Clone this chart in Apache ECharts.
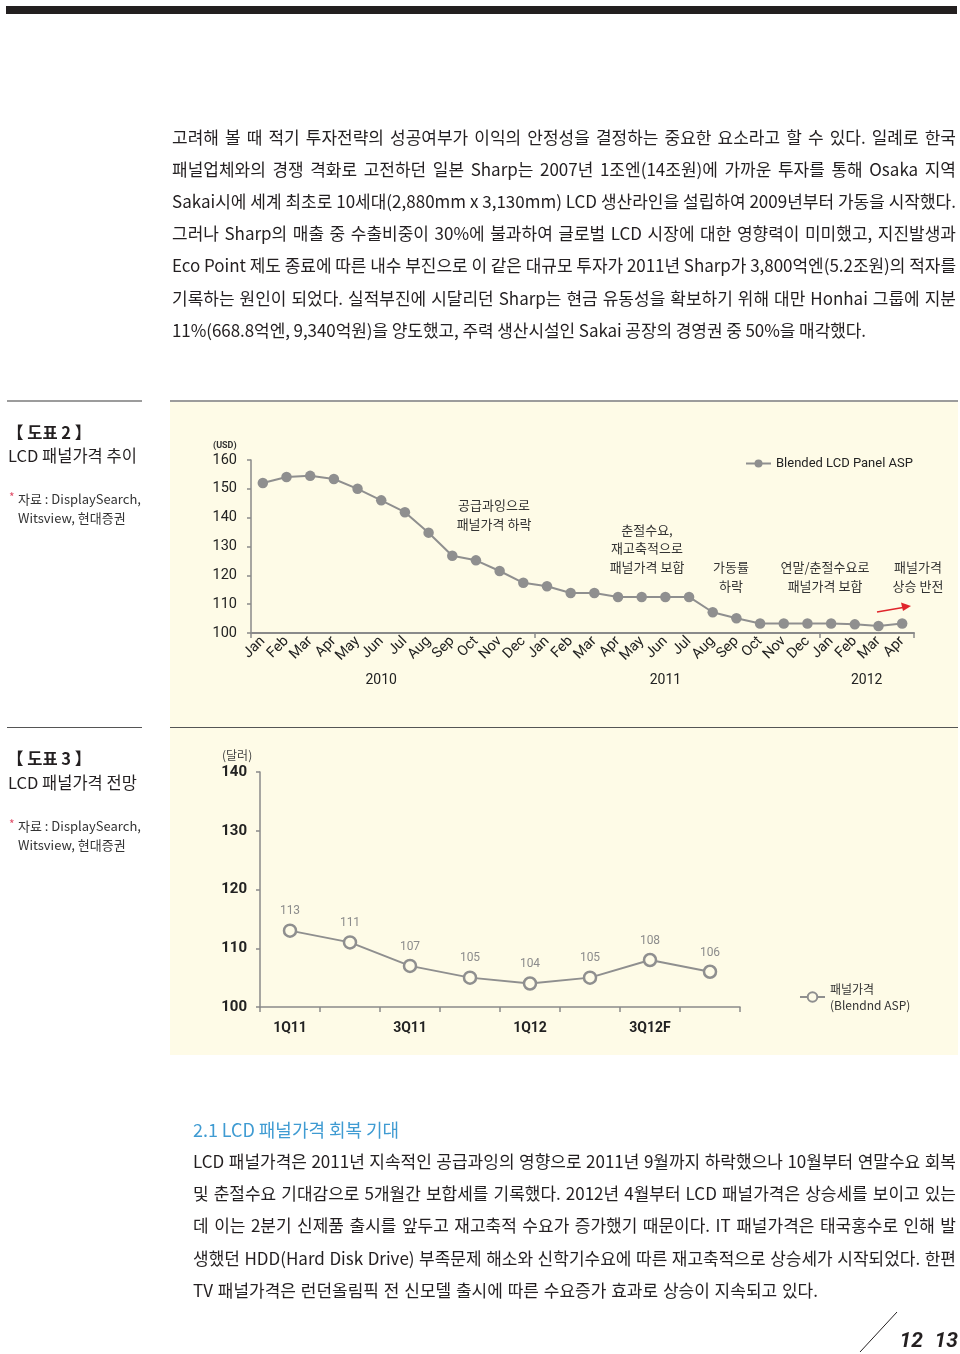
<!DOCTYPE html>
<html><head><meta charset="utf-8">
<script src="https://cdn.jsdelivr.net/npm/echarts@6/dist/echarts.min.js"></script>
<style>
html,body{margin:0;padding:0;background:#fff;}
#page{position:relative;width:960px;height:1354px;overflow:hidden;background:#fff;}
#chart{position:absolute;left:0;top:0;width:960px;height:1354px;}
.ln{position:absolute;white-space:nowrap;font-family:'Noto Sans CJK KR',sans-serif;font-size:17px;color:#231f20;line-height:20px;height:20px;z-index:5;}
</style></head>
<body><div id="page"><div id="chart"></div></div>
<script>
// ---------- data ----------
const monthNames = ['Jan','Feb','Mar','Apr','May','Jun','Jul','Aug','Sep','Oct','Nov','Dec',
  'Jan','Feb','Mar','Apr','May','Jun','Jul','Aug','Sep','Oct','Nov','Dec',
  'Jan','Feb','Mar','Apr'];
const monthYears = [2010,2010,2010,2010,2010,2010,2010,2010,2010,2010,2010,2010,
  2011,2011,2011,2011,2011,2011,2011,2011,2011,2011,2011,2011,
  2012,2012,2012,2012];
const aspValues = [152.0,154.1,154.5,153.4,150.0,146.0,141.9,134.8,126.8,125.2,121.5,117.4,
  116.2,113.9,113.9,112.5,112.5,112.5,112.5,107.2,105.1,103.3,103.3,103.3,
  103.3,103.0,102.4,103.3];
const yearLabels = [{text:'2010',from:5,to:5},{text:'2011',from:17,to:17},{text:'2012',from:25,to:26}];
const asp2Ticks = {min:100,max:160,interval:10};

const quarters = ['1Q11','2Q11','3Q11','4Q11','1Q12','2Q12','3Q12F','4Q12F'];
const forecastValues = [113,111,107,105,104,105,108,106];
const asp3Ticks = {min:100,max:140,interval:10};

const para1 = [
 '고려해 볼 때 적기 투자전략의 성공여부가 이익의 안정성을 결정하는 중요한 요소라고 할 수 있다. 일례로 한국',
 '패널업체와의 경쟁 격화로 고전하던 일본 Sharp는 2007년 1조엔(14조원)에 가까운 투자를 통해 Osaka 지역',
 'Sakai시에 세계 최초로 10세대(2,880mm x 3,130mm) LCD 생산라인을 설립하여 2009년부터 가동을 시작했다.',
 '그러나 Sharp의 매출 중 수출비중이 30%에 불과하여 글로벌 LCD 시장에 대한 영향력이 미미했고, 지진발생과',
 'Eco Point 제도 종료에 따른 내수 부진으로 이 같은 대규모 투자가 2011년 Sharp가 3,800억엔(5.2조원)의 적자를',
 '기록하는 원인이 되었다. 실적부진에 시달리던 Sharp는 현금 유동성을 확보하기 위해 대만 Honhai 그룹에 지분',
 '11%(668.8억엔, 9,340억원)을 양도했고, 주력 생산시설인 Sakai 공장의 경영권 중 50%을 매각했다.'
];
const para2Title = '2.1 LCD 패널가격 회복 기대';
const para2 = [
 'LCD 패널가격은 2011년 지속적인 공급과잉의 영향으로 2011년 9월까지 하락했으나 10월부터 연말수요 회복',
 '및 춘절수요 기대감으로 5개월간 보합세를 기록했다. 2012년 4월부터 LCD 패널가격은 상승세를 보이고 있는',
 '데 이는 2분기 신제품 출시를 앞두고 재고축적 수요가 증가했기 때문이다. IT 패널가격은 태국홍수로 인해 발',
 '생했던 HDD(Hard Disk Drive) 부족문제 해소와 신학기수요에 따른 재고축적으로 상승세가 시작되었다. 한편',
 'TV 패널가격은 런던올림픽 전 신모델 출시에 따른 수요증가 효과로 상승이 지속되고 있다.'
];

// ---------- paragraph text (HTML) ----------
const page = document.getElementById('page');
function fitLine(text, left, cy, width, opts) {
  const d = document.createElement('div');
  d.className = 'ln';
  d.textContent = text;
  d.style.left = left + 'px';
  d.style.top = (cy - 10) + 'px';
  if (opts && opts.color) d.style.color = opts.color;
  if (opts && opts.size) d.style.fontSize = opts.size + 'px';
  page.appendChild(d);
  let w = d.getBoundingClientRect().width;
  const spaces = (text.match(/ /g) || []).length;
  if (w > width) {
    d.style.letterSpacing = ((width - w) / text.length) + 'px';
    w = d.getBoundingClientRect().width;
  }
  if (spaces > 0 && Math.abs(width - w) > 0.5) {
    d.style.wordSpacing = ((width - w) / spaces) + 'px';
  }
}
const p1Top = 136.5, p1Pitch = 32.2;
para1.forEach((t, i) => fitLine(t, 172, p1Top + i * p1Pitch, i === para1.length - 1 ? 694 : 784));
fitLine(para2Title, 193, 1129, 206, {color:'#3f9bd2', size:18});
const p2Top = 1161, p2Pitch = 32.2;
para2.forEach((t, i) => fitLine(t, 193, p2Top + i * p2Pitch, i === para2.length - 1 ? 625 : 763));

// ---------- chart ----------
const chart = echarts.init(document.getElementById('chart'));
const categories = monthNames.map((m, i) => monthYears[i] + '-' + m);
const KR = '"Noto Sans CJK KR", sans-serif';
const NUM = 'Roboto, "Noto Sans", sans-serif';
const axisGray = '#8a8a8a';
const lineGray = '#8f8f8f';

function txt(id, text, x, y, font, fill, align) {
  return {type:'text', id:id, z:50, style:{text:text, x:x, y:y, font:font, fill:fill || '#222',
    textAlign:align || 'left', textVerticalAlign:'middle'}};
}

const graphics = [
  {type:'rect', id:'topbar', shape:{x:6,y:6,width:951,height:8}, style:{fill:'#231f20'}},
  {type:'rect', id:'panel', z:-10, shape:{x:170,y:401,width:788,height:654}, style:{fill:'#fefbe7'}},
  {type:'line', id:'l1a', shape:{x1:170,y1:401,x2:958,y2:401}, style:{stroke:'#9c9c9c',lineWidth:2}},
  {type:'line', id:'l1b', shape:{x1:7,y1:401,x2:142,y2:401}, style:{stroke:'#9c9c9c',lineWidth:2}},
  {type:'line', id:'l2a', shape:{x1:170,y1:727.5,x2:958,y2:727.5}, style:{stroke:'#555',lineWidth:1}},
  {type:'line', id:'l2b', shape:{x1:7,y1:727.5,x2:142,y2:727.5}, style:{stroke:'#555',lineWidth:1}},
  txt('c2a', '【 도표 2 】', 7, 433, 'bold 16.5px ' + KR, '#231f20'),
  txt('c2b', 'LCD 패널가격 추이', 8, 456, '16.5px ' + KR, '#231f20'),
  txt('c2c', '*', 9, 497, '12px ' + KR, '#e0506a'),
  txt('c2d', '자료 : DisplaySearch,', 18, 499, '13px ' + KR, '#333'),
  txt('c2e', 'Witsview, 현대증권', 18, 518, '13px ' + KR, '#333'),
  txt('c3a', '【 도표 3 】', 7, 759, 'bold 16.5px ' + KR, '#231f20'),
  txt('c3b', 'LCD 패널가격 전망', 8, 783, '16.5px ' + KR, '#231f20'),
  txt('c3c', '*', 9, 824, '12px ' + KR, '#e0506a'),
  txt('c3d', '자료 : DisplaySearch,', 18, 826, '13px ' + KR, '#333'),
  txt('c3e', 'Witsview, 현대증권', 18, 845, '13px ' + KR, '#333'),
  txt('usd', '(USD)', 213, 446, 'bold 9px ' + NUM, '#333'),
  txt('dal', '(달러)', 222, 755, '12px ' + KR, '#444'),
  // annotations chart 2
  txt('a1', '공급과잉으로', 494, 505, '13px ' + KR, '#333', 'center'),
  txt('a2', '패널가격 하락', 494, 524, '13px ' + KR, '#333', 'center'),
  txt('a3', '춘절수요,', 647, 530, '13px ' + KR, '#333', 'center'),
  txt('a4', '재고축적으로', 647, 548.5, '13px ' + KR, '#333', 'center'),
  txt('a5', '패널가격 보합', 647, 567, '13px ' + KR, '#333', 'center'),
  txt('a6', '가동률', 731, 567, '13px ' + KR, '#333', 'center'),
  txt('a7', '하락', 731, 586, '13px ' + KR, '#333', 'center'),
  txt('a8', '연말/춘절수요로', 825, 567, '13px ' + KR, '#333', 'center'),
  txt('a9', '패널가격 보합', 825, 586, '13px ' + KR, '#333', 'center'),
  txt('a10', '패널가격', 918, 567, '13px ' + KR, '#333', 'center'),
  txt('a11', '상승 반전', 918, 586, '13px ' + KR, '#333', 'center'),
  {type:'line', id:'arr', z:50, shape:{x1:877,y1:612,x2:903,y2:607.5}, style:{stroke:'#e0252b',lineWidth:1.6}},
  {type:'polygon', id:'arrh', z:50, shape:{points:[[911,606],[901,602.5],[903,611]]}, style:{fill:'#e0252b'}},
  // page number
  {type:'line', id:'pgl', shape:{x1:860,y1:1352,x2:897,y2:1312}, style:{stroke:'#231f20',lineWidth:1}},
  txt('pg1', '12', 923, 1342, 'italic bold 21px ' + NUM, '#231f20', 'right'),
  txt('pg2', '13', 958, 1342, 'italic bold 21px ' + NUM, '#231f20', 'right')
];

const option = {
  animation:false,
  backgroundColor:'transparent',
  textStyle:{fontFamily:NUM},
  grid:[
    {left:251, top:460, width:663, height:173, containLabel:false},
    {left:260, top:772, width:480, height:235, containLabel:false}
  ],
  legend:[
    {left:740, top:452, itemWidth:25, itemHeight:10, itemGap:6, data:['Blended LCD Panel ASP'],
      textStyle:{fontFamily:NUM, fontSize:13, color:'#222'}},
    {left:794, top:968, itemWidth:25, itemHeight:12, data:['패널가격'],
      formatter:function(){ return '패널가격\n(Blendnd ASP)'; },
      textStyle:{fontFamily:KR, fontSize:12, color:'#333', lineHeight:16, padding:[16,0,0,0]}}
  ],
  xAxis:[
    {type:'category', gridIndex:0, data:categories, boundaryGap:true,
      axisLine:{lineStyle:{color:axisGray, width:2}},
      axisTick:{show:true, length:5, interval:function(i){ return i % 12 === 0; }, lineStyle:{color:axisGray, width:1.5}},
      axisLabel:{interval:0, rotate:45, fontSize:14.5, margin:6, color:'#222', fontFamily:NUM,
        formatter:function(v){ return v.split('-')[1]; }}},
    {type:'category', gridIndex:1, data:quarters, boundaryGap:true,
      axisLine:{lineStyle:{color:axisGray, width:1.5}},
      axisTick:{show:true, length:5, interval:0, lineStyle:{color:axisGray, width:1.5}},
      axisLabel:{interval:1, fontSize:14, fontWeight:'bold', margin:14, color:'#222', fontFamily:NUM}}
  ],
  yAxis:[
    {type:'value', gridIndex:0, min:asp2Ticks.min, max:asp2Ticks.max, interval:asp2Ticks.interval,
      axisLine:{show:true, lineStyle:{color:axisGray, width:1.5}},
      axisTick:{show:true, length:4, lineStyle:{color:axisGray, width:1.5}},
      splitLine:{show:false},
      axisLabel:{fontSize:14.5, margin:14, color:'#222', fontFamily:NUM}},
    {type:'value', gridIndex:1, min:asp3Ticks.min, max:asp3Ticks.max, interval:asp3Ticks.interval,
      axisLine:{show:true, lineStyle:{color:axisGray, width:1.5}},
      axisTick:{show:true, length:4, lineStyle:{color:axisGray, width:1.5}},
      splitLine:{show:false},
      axisLabel:{fontSize:15, fontWeight:'bold', margin:13, color:'#222', fontFamily:NUM}}
  ],
  series:[
    {name:'Blended LCD Panel ASP', type:'line', xAxisIndex:0, yAxisIndex:0, data:aspValues,
      symbol:'circle', symbolSize:10.5,
      itemStyle:{color:lineGray}, lineStyle:{color:lineGray, width:2}},
    {name:'패널가격', type:'line', xAxisIndex:1, yAxisIndex:1, data:forecastValues,
      symbol:'circle', symbolSize:12,
      itemStyle:{color:'#fefbe7', borderColor:lineGray, borderWidth:2.5},
      lineStyle:{color:lineGray, width:2},
      label:{show:true, position:'top', distance:6, fontSize:12, color:'#8c8c8c', fontFamily:NUM}}
  ],
  graphic:graphics
};
chart.setOption(option);

// year labels under the month axis, placed through the axis scale
const yearGraphics = yearLabels.map((y, k) => {
  const x1 = chart.convertToPixel({xAxisIndex:0}, categories[y.from]);
  const x2 = chart.convertToPixel({xAxisIndex:0}, categories[y.to]);
  return txt('yr' + k, y.text, (x1 + x2) / 2, 680, '14px ' + NUM, '#222', 'center');
});
chart.setOption({graphic: yearGraphics});
</script>
</body></html>
